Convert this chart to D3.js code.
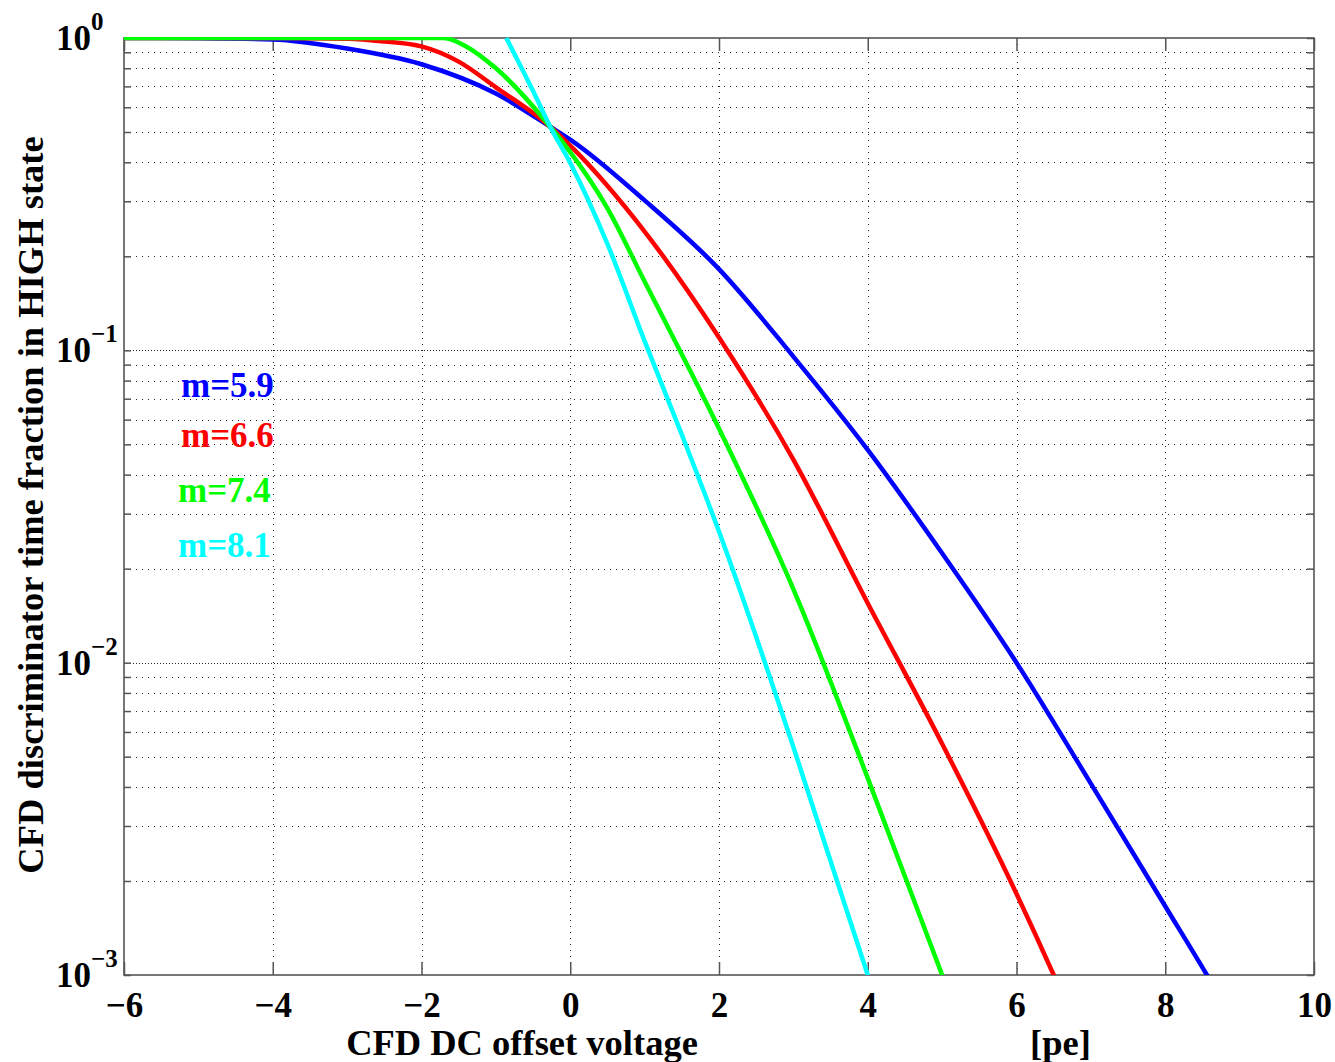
<!DOCTYPE html>
<html><head><meta charset="utf-8">
<script src="https://cdn.jsdelivr.net/npm/d3@7"></script>
<style>body{margin:0;background:#fff}svg{display:block}text{font-family:"Liberation Serif","Times New Roman",serif;font-weight:bold}</style>
</head><body><svg id="c" width="1335" height="1062"></svg>
<script>
// ---- data ----
const xTicks = [-6, -4, -2, 0, 2, 4, 6, 8, 10];
const yDecades = [1e-3, 1e-2, 1e-1, 1];
const yDecadeExps = ["−3", "−2", "−1", "0"];
const seriesNames = ["m=5.9", "m=6.6", "m=7.4", "m=8.1"];
const seriesColors = ["#0000ff", "#ff0000", "#00ff00", "#00ffff"];

const xM59 = [-6, -5, -4, -3, -2, -1, -0.27, 0, 1, 2, 3, 4, 5, 6, 7, 8, 8.56, 8.8];
const yM59 = [1.0, 0.998, 0.989, 0.925, 0.824, 0.664, 0.52, 0.473, 0.302, 0.182, 0.0955, 0.048, 0.0224, 0.01, 0.0041, 0.00166, 0.001, 0.0008];

const xM66 = [-6, -4, -3, -2.5, -2, -1.5, -1, -0.27, 0, 1, 2, 3, 4, 5, 6, 6.5, 6.7];
const yM66 = [1.0, 1.0, 0.995, 0.975, 0.94, 0.84, 0.695, 0.52, 0.452, 0.24, 0.11, 0.0447, 0.0155, 0.0055, 0.00182, 0.001, 0.00078];

const xM74 = [-6, -2, -1.7, -1.4, -1, -0.27, 0, 0.5, 1, 2, 3, 4, 5, 5.2];
const yM74 = [1.0, 1.0, 1.0, 0.94, 0.80, 0.52, 0.431, 0.285, 0.166, 0.0562, 0.0172, 0.00427, 0.001, 0.00075];

const xM81 = [-0.86, -0.5, -0.27, 0, 0.5, 1, 1.5, 2, 3, 4, 4.1];
const yM81 = [1.0, 0.676, 0.52, 0.398, 0.219, 0.107, 0.0537, 0.0263, 0.00537, 0.001, 0.00085];

const seriesX = [xM59, xM66, xM74, xM81];
const seriesY = [yM59, yM66, yM74, yM81];

const xLabel = "CFD DC offset voltage";
const xUnit = "[pe]";
const yLabel = "CFD discriminator time fraction in HIGH state";

// ---- layout ----
const L = 124, R = 1314, T = 38, B = 975;
const svg = d3.select("#c");
const x = d3.scaleLinear().domain([-6, 10]).range([L, R]);
const y = d3.scaleLog().domain([1e-3, 1]).range([B, T]);

const yMinor = [];
for (let d = -3; d < 0; d++) for (let k = 2; k <= 9; k++) yMinor.push(k * Math.pow(10, d));

const grid = svg.append("g");
grid.selectAll(".vg").data(xTicks.filter(t => t > -6 && t < 10)).enter().append("line")
  .attr("x1", d => Math.round(x(d)) + 0.5).attr("x2", d => Math.round(x(d)) + 0.5).attr("y1", T).attr("y2", B)
  .attr("stroke", "#222").attr("stroke-width", 1).attr("stroke-dasharray", "1,5");
grid.selectAll(".hg").data(yMinor).enter().append("line")
  .attr("x1", L).attr("x2", R).attr("y1", d => Math.round(y(d)) + 0.5).attr("y2", d => Math.round(y(d)) + 0.5)
  .attr("stroke", "#222").attr("stroke-width", 1).attr("stroke-dasharray", "1,5");
grid.selectAll(".dg").data(yDecades.filter(v => v > 1e-3 && v < 1)).enter().append("line")
  .attr("x1", L).attr("x2", R).attr("y1", d => Math.round(y(d)) + 0.5).attr("y2", d => Math.round(y(d)) + 0.5)
  .attr("stroke", "#222").attr("stroke-width", 1).attr("stroke-dasharray", "1,2");

// frame
svg.append("rect").attr("x", L).attr("y", T).attr("width", R - L).attr("height", B - T)
  .attr("fill", "none").attr("stroke", "#555").attr("stroke-width", 1.6);

// axes ticks (inside)
const axB = d3.axisBottom(x).tickValues(xTicks).tickSizeInner(-13).tickSizeOuter(0).tickPadding(17)
  .tickFormat(d3.format("d"));
const gB = svg.append("g").attr("transform", `translate(0,${B})`).call(axB);
gB.select(".domain").remove();
gB.selectAll(".tick line").attr("stroke", "#555").attr("stroke-width", 1.5);
gB.selectAll(".tick text").attr("font-size", 35).attr("fill", "#000")
  .style("font-family", '"Liberation Serif","Times New Roman",serif').style("font-weight", "bold");

const axT = d3.axisTop(x).tickValues(xTicks).tickSizeInner(-13).tickSizeOuter(0).tickFormat("");
const gT = svg.append("g").attr("transform", `translate(0,${T})`).call(axT);
gT.select(".domain").remove();
gT.selectAll(".tick line").attr("stroke", "#555").attr("stroke-width", 1.5);

const yAllTicks = yDecades.concat(yMinor);
[[L, 1], [R, -1]].forEach(([x0, s]) => {
  const ax = (s > 0 ? d3.axisLeft(y) : d3.axisRight(y)).tickValues(yAllTicks).tickSizeInner(-7).tickSizeOuter(0).tickFormat("");
  const g = svg.append("g").attr("transform", `translate(${x0},0)`).call(ax);
  g.select(".domain").remove();
  g.selectAll(".tick line").attr("stroke", "#555").attr("stroke-width", 1.5);
});

// y decade labels 10^n
const yl = svg.append("g");
yDecades.forEach((v, i) => {
  yl.append("text").attr("x", 91).attr("y", y(v) + 12).attr("text-anchor", "end")
    .attr("font-size", 35).attr("fill", "#000").text("10");
  yl.append("text").attr("x", 91).attr("y", y(v) - 8).attr("text-anchor", "start")
    .attr("font-size", 25).attr("fill", "#000").text(yDecadeExps[i]);
});

// series lines
svg.append("clipPath").attr("id", "clip").append("rect")
  .attr("x", L).attr("y", T - 1).attr("width", R - L).attr("height", B - T + 1);
const line = d3.line().x(d => x(d[0])).y(d => y(d[1])).curve(d3.curveMonotoneX);
const lg = svg.append("g").attr("clip-path", "url(#clip)");
seriesX.forEach((xs, i) => {
  const pts = xs.map((xv, j) => [xv, seriesY[i][j]]);
  lg.append("path").attr("d", line(pts)).attr("fill", "none")
    .attr("stroke", seriesColors[i]).attr("stroke-width", 4.5).attr("stroke-linejoin", "round");
});

// legend texts
const legY = [397, 447, 502, 557];
const legX = [181, 181, 178, 178];
seriesNames.forEach((n, i) => {
  svg.append("text").attr("x", legX[i]).attr("y", legY[i]).attr("font-size", 35)
    .attr("fill", seriesColors[i]).text(n);
});

// axis labels
svg.append("text").attr("x", 522).attr("y", 1055).attr("text-anchor", "middle")
  .attr("font-size", 36.5).attr("fill", "#000").text(xLabel);
svg.append("text").attr("x", 1030).attr("y", 1055).attr("text-anchor", "start")
  .attr("font-size", 36.5).attr("fill", "#000").text(xUnit);
svg.append("text").attr("transform", `translate(43,${505}) rotate(-90)`).attr("text-anchor", "middle")
  .attr("font-size", 36.5).attr("fill", "#000").text(yLabel);
</script>
</body></html>
